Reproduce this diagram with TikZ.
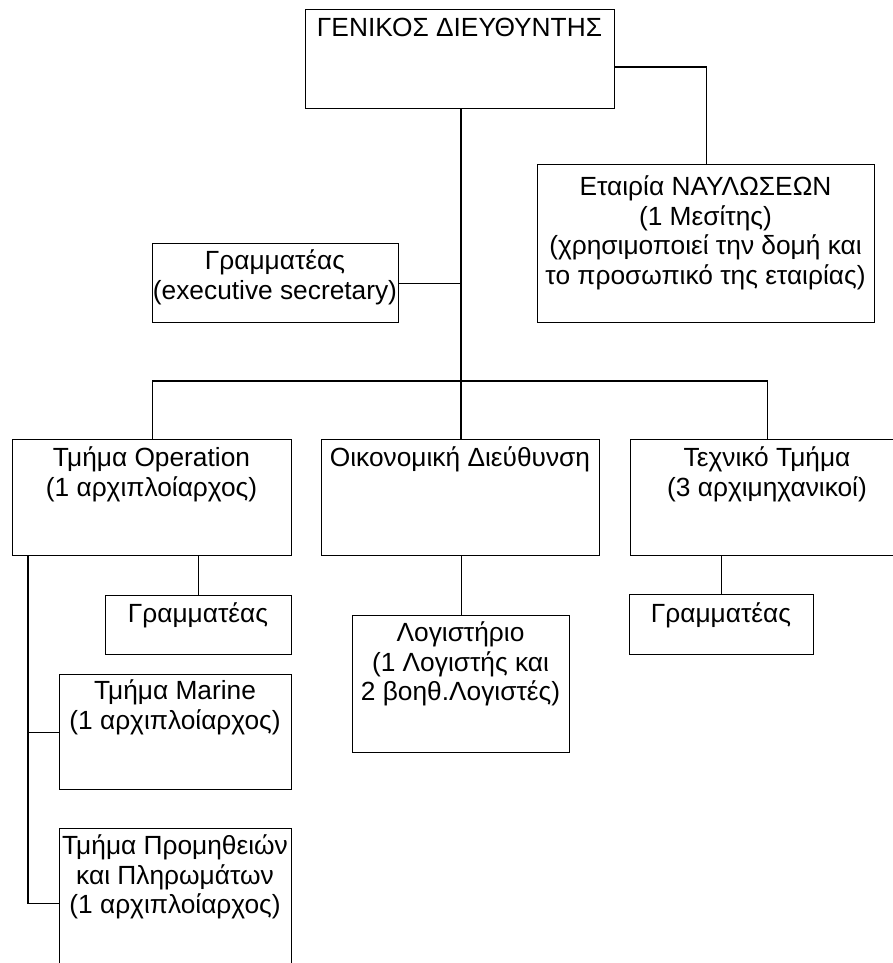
\documentclass[tikz,border=0pt]{standalone}
\usepackage{fontspec}
\setmainfont{Liberation Sans}
\newcommand\boxfont{\fontsize{26.3}{29.5}\selectfont}
\begin{document}
\begin{tikzpicture}[x=1pt,y=-1pt,
  box/.style={draw,line width=1.4pt,inner sep=0pt,anchor=north west},
  txt/.style={font=\boxfont,align=center,inner sep=0pt,anchor=north},
  wire/.style={line width=1.4pt}]
\path[fill=white,use as bounding box] (0,0) rectangle (893,963);

% boxes
\node[box,minimum width=309pt,minimum height=99pt] (gd) at (305,9) {};
\node[box,minimum width=337pt,minimum height=158pt] (nav) at (537,164) {};
\node[box,minimum width=246pt,minimum height=79pt] (sec) at (152,243) {};
\node[box,minimum width=279pt,minimum height=116pt] (op) at (12,439) {};
\node[box,minimum width=278pt,minimum height=116pt] (fin) at (321,439) {};
\node[box,minimum width=274pt,minimum height=116pt] (tech) at (630,439) {};
\node[box,minimum width=186pt,minimum height=59pt] (opsec) at (105,595) {};
\node[box,minimum width=232pt,minimum height=115pt] (mar) at (59,674) {};
\node[box,minimum width=232pt,minimum height=150pt] (prom) at (59,828) {};
\node[box,minimum width=217pt,minimum height=137pt] (log) at (352,615) {};
\node[box,minimum width=184pt,minimum height=60pt] (tsec) at (629,594) {};

% texts
\node[txt] (gdt) at (459.5,16) {\strut ΓΕΝΙΚΟΣ ΔΙΕΥΘΥΝΤΗΣ};
\node[txt] (navt) at (705.5,175) {\strut Εταιρία ΝΑΥΛΩΣΕΩΝ\\(1 Μεσίτης)\\(χρησιμοποιεί την δομή και\\το προσωπικό της εταιρίας)};
\node[txt] (sect) at (275,249) {\strut Γραμματέας\\(executive secretary)};
\node[txt] (opt) at (151.5,446) {\strut Τμήμα Operation\\(1 αρχιπλοίαρχος)};
\node[txt] (fint) at (460,446) {\strut Οικονομική Διεύθυνση};
\node[txt] (techt) at (767,446) {\strut Τεχνικό Τμήμα\\(3 αρχιμηχανικοί)};
\node[txt] (opsect) at (198,602) {\strut Γραμματέας};
\node[txt] (mart) at (175,679) {\strut Τμήμα Marine\\(1 αρχιπλοίαρχος)};
\node[txt] (promt) at (175,834) {\strut Τμήμα Προμηθειών\\και Πληρωμάτων\\(1 αρχιπλοίαρχος)};
\node[txt] (logt) at (460.5,621) {\strut Λογιστήριο\\(1 Λογιστής και\\2 βοηθ.Λογιστές)};
\node[txt] (tsect) at (721,602) {\strut Γραμματέας};

% connectors
\coordinate (hub) at (461,381);
\coordinate (spine) at (28,903);
\draw[wire] (gd.north east) ++(0,58) -| (nav.north);
\draw[wire] (gd.south -| hub) -- (hub);
\draw[wire] (sec.east) -- (sec.east -| hub);
\draw[wire] (op.north) |- (hub) -| (tech.north);
\draw[wire] (hub) -- (fin.north -| hub);
\draw[wire] (op.south -| spine) |- (prom.west);
\draw[wire] (mar.west -| spine) -- (mar.west);
\draw[wire] (opsec.north) -- (opsec.north |- op.south);
\draw[wire] (log.north) -- (log.north |- fin.south);
\draw[wire] (tsec.north) -- (tsec.north |- tech.south);
\end{tikzpicture}
\end{document}
